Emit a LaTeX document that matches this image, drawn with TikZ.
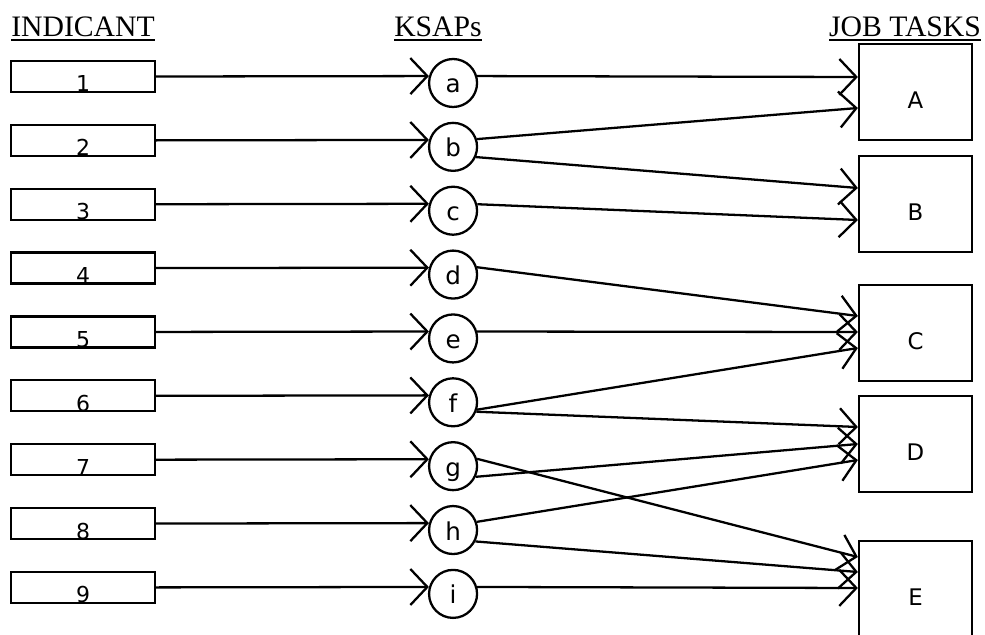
\documentclass[tikz,border=0pt]{standalone}
\usepackage{fontspec}
\setmainfont{Liberation Serif}
\newfontfamily\labelfont{DejaVu Sans}
\usetikzlibrary{calc, positioning, arrows.meta}

\newcommand{\headtext}[1]{\setbox0\hbox{#1}\rlap{\rule[-2.4pt]{\wd0}{1.2pt}}\box0}

\begin{document}
\begin{tikzpicture}[
    x=0.02cm, y=-0.02cm,
    node distance=0.6575cm,
    line width=1.3pt,
    heading/.style={anchor=base, inner sep=0pt, font=\fontsize{16.9}{20}\selectfont},
    indicant/.style={draw, rectangle, outer sep=0pt, minimum width=2.88cm, minimum height=0.62cm, inner sep=0pt, text height=0.62cm, text depth=0pt, font=\labelfont\fontsize{12.5}{14}\selectfont},
    ksap/.style={draw, circle, minimum size=0.96cm, inner sep=0pt, text height=0.45cm, text depth=0.05cm, font=\labelfont\fontsize{14}{16}\selectfont},
    task/.style={draw, rectangle, minimum width=2.26cm, minimum height=1.92cm, inner sep=0pt, text height=0.68cm, text depth=0pt, font=\labelfont\fontsize{13}{15}\selectfont},
    arrow/.style={-{Straight Barb[length=0.34cm, width=0.72cm]}}
]
\useasboundingbox (0,0) rectangle (985,635);

\node[heading] (indicants) at (83,37) {\headtext{INDICANT}};
\node[heading] (ksaps) at (438,37) {\headtext{KSAPs}};
\node[heading] (tasks) at (905,37) {\headtext{JOB TASKS}};

\node[indicant] (1) at (83,76.5) {1};
\node[indicant, below=of 1] (2) {2};
\node[indicant, below=of 2] (3) {3};
\node[indicant, below=of 3] (4) {4};
\node[indicant, below=of 4] (5) {5};
\node[indicant, below=of 5] (6) {6};
\node[indicant, below=of 6] (7) {7};
\node[indicant, below=of 7] (8) {8};
\node[indicant, below=of 8] (9) {9};

\node[ksap, right=5.46cm of 1, yshift=-0.13cm] (a) {a};
\node[ksap, right=5.46cm of 2, yshift=-0.13cm] (b) {b};
\node[ksap, right=5.46cm of 3, yshift=-0.13cm] (c) {c};
\node[ksap, right=5.46cm of 4, yshift=-0.13cm] (d) {d};
\node[ksap, right=5.46cm of 5, yshift=-0.13cm] (e) {e};
\node[ksap, right=5.46cm of 6, yshift=-0.13cm] (f) {f};
\node[ksap, right=5.46cm of 7, yshift=-0.13cm] (g) {g};
\node[ksap, right=5.46cm of 8, yshift=-0.13cm] (h) {h};
\node[ksap, right=5.46cm of 9, yshift=-0.13cm] (i) {i};

\node[task] (A) at (915.5,92) {A};
\node[task] (B) at (915.5,204) {B};
\node[task] (C) at (915.5,333) {C};
\node[task] (D) at (915.5,444) {D};
\node[task] (E) at (915.5,589) {E};

\draw[arrow] (1.east) -- (a.164);
\draw[arrow] (2.east) -- (b.164);
\draw[arrow] (3.east) -- (c.164);
\draw[arrow] (4.east) -- (d.164);
\draw[arrow] (5.east) -- (e.164);
\draw[arrow] (6.east) -- (f.164);
\draw[arrow] (7.east) -- (g.164);
\draw[arrow] (8.east) -- (h.164);
\draw[arrow] (9.east) -- (i.164);

\draw[arrow] (a.16) -- ($(A.west)+(0,-15)$);
\draw[arrow] (b.18) -- ($(A.west)+(0,16)$);
\draw[arrow] (b.-24) -- ($(B.west)+(0,-16)$);
\draw[arrow] (c.15) -- ($(B.west)+(0,16)$);
\draw[arrow] (d.17) -- ($(C.west)+(0,-17)$);
\draw[arrow] (e.16) -- ($(C.west)+(0,-1)$);
\draw[arrow] (f.-17) -- ($(C.west)+(0,15)$);
\draw[arrow] (f.-22) -- ($(D.west)+(0,-17)$);
\draw[arrow] (g.-25) -- (D.west);
\draw[arrow] (h.19) -- ($(D.west)+(0,16)$);
\draw[arrow] (g.17) -- ($(E.west)+(0,-32)$);
\draw[arrow] (h.-27) -- ($(E.west)+(0,-17)$);
\draw[arrow] (i.16) -- ($(E.west)+(0,-1)$);
\end{tikzpicture}
\end{document}
